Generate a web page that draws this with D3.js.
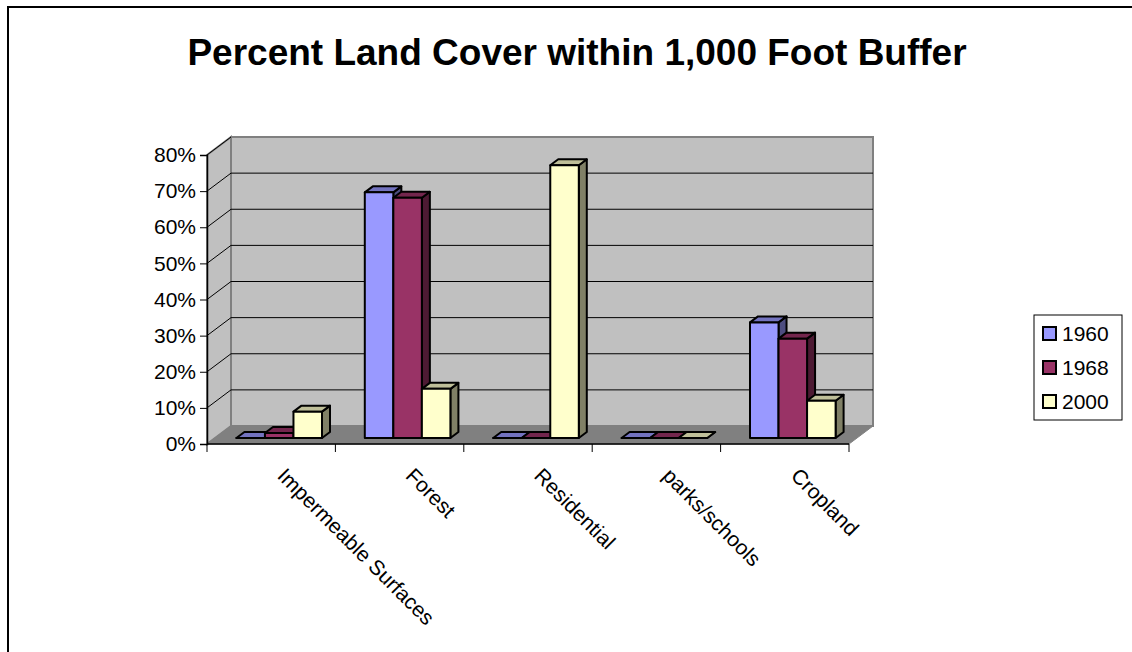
<!DOCTYPE html>
<html>
<head>
<meta charset="utf-8">
<script src="https://cdn.jsdelivr.net/npm/d3@7"></script>
<style>
  body { margin: 0; background: #fff; }
  svg text { font-family: Arial, "Liberation Sans", sans-serif; }
</style>
</head>
<body>
<div id="chart"></div>
<script>
// Data
const categories = ['Impermeable Surfaces', 'Forest', 'Residential', 'parks/schools', 'Cropland'];
const seriesNames = ['1960', '1968', '2000'];
const values1960 = [0, 0.68, 0, 0, 0.32];
const values1968 = [0.014, 0.665, 0, 0, 0.275];
const values2000 = [0.073, 0.136, 0.755, 0, 0.103];
const seriesColors = ['#9999ff', '#993366', '#ffffcc'];
const yTicks = [0, 0.1, 0.2, 0.3, 0.4, 0.5, 0.6, 0.7, 0.8];

const seriesValues = [values1960, values1968, values2000];

// Dimensions
const dims = {
    width: 1132,
    height: 652,
    left: 207,
    right: 849,
    floor: 444,
    top: 155,
    depthX: 24,
    depthY: -18
}

// Scales
const xScale = d3.scaleBand()
    .domain(categories)
    .range([dims.left, dims.right])
    .paddingInner(0)
    .paddingOuter(0)

const yScale = d3.scaleLinear()
    .domain([0, 0.8])
    .range([dims.floor, dims.top])

// gap width 150% -> bar width = band / 4.5
const barScale = d3.scaleBand()
    .domain(seriesNames)
    .range([0, xScale.bandwidth()])
    .paddingInner(0)
    .paddingOuter(0.75)

// depth fraction (0 = front, 1 = back wall)
const depth = d3.scaleLinear().domain([0, 1]).range([0, 1])
const px = (x, f) => x + dims.depthX * depth(f)
const py = (y, f) => y + dims.depthY * depth(f)

const svg = d3.select('#chart')
    .append('svg')
    .attr('width', dims.width)
    .attr('height', dims.height)

// outer border
svg.append('rect')
    .attr('x', 8).attr('y', 7)
    .attr('width', 1200).attr('height', 700)
    .attr('fill', 'none')
    .attr('stroke', '#000')
    .attr('stroke-width', 2)

// Title
svg.append('text')
    .attr('x', 577)
    .attr('y', 65)
    .attr('text-anchor', 'middle')
    .attr('font-size', 37)
    .attr('font-weight', 'bold')
    .text('Percent Land Cover within 1,000 Foot Buffer')

const poly = pts => pts.map(p => p.join(',')).join(' ')

// Walls
const y0 = yScale(0), yMax = yScale(0.8)
svg.append('polygon')
    .attr('points', poly([[px(dims.left, 1), py(yMax, 1)], [px(dims.right, 1), py(yMax, 1)],
        [px(dims.right, 1), py(y0, 1)], [px(dims.left, 1), py(y0, 1)]]))
    .attr('fill', '#c0c0c0')
    .attr('stroke', '#808080')
    .attr('stroke-width', 2)

svg.append('polygon')
    .attr('points', poly([[dims.left, yMax], [px(dims.left, 1), py(yMax, 1)],
        [px(dims.left, 1), py(y0, 1)], [dims.left, y0]]))
    .attr('fill', '#c0c0c0')
    .attr('stroke', '#808080')
    .attr('stroke-width', 2)

// Gridlines
const grid = yTicks.filter(d => d > 0 && d < 0.8)
svg.append('g').selectAll('line.back')
    .data(grid)
    .join('line')
    .attr('x1', px(dims.left, 1))
    .attr('x2', px(dims.right, 1))
    .attr('y1', d => py(yScale(d), 1))
    .attr('y2', d => py(yScale(d), 1))
    .attr('stroke', '#000')
    .attr('stroke-width', 1)

svg.append('g').selectAll('line.side')
    .data(grid.concat([0.8]))
    .join('line')
    .attr('x1', dims.left)
    .attr('x2', px(dims.left, 1))
    .attr('y1', d => yScale(d))
    .attr('y2', d => py(yScale(d), 1))
    .attr('stroke', '#000')
    .attr('stroke-width', 1)

// Floor
svg.append('polygon')
    .attr('points', poly([[dims.left, y0], [dims.right, y0],
        [px(dims.right, 1), py(y0, 1)], [px(dims.left, 1), py(y0, 1)]]))
    .attr('fill', '#808080')
    .attr('stroke', '#808080')
    .attr('stroke-width', 1)

// Bars
const shade = (c, k) => {
    const r = d3.rgb(c)
    return d3.rgb(r.r * k, r.g * k, r.b * k).toString()
}
const f0 = 1 / 3, f1 = 2 / 3
const bars = []
categories.forEach((c, i) => {
    seriesNames.forEach((s, j) => {
        bars.push({cat: c, series: s, value: seriesValues[j][i], color: seriesColors[j]})
    })
})

const barG = svg.append('g')
bars.forEach(d => {
    const xl = xScale(d.cat) + barScale(d.series)
    const xr = xl + barScale.bandwidth()
    const yb = yScale(0)
    const yt = yScale(d.value)
    const g = barG.append('g')
        .attr('stroke', '#000')
        .attr('stroke-width', 2)
        .attr('stroke-linejoin', 'round')
    // side
    g.append('polygon')
        .attr('points', poly([[px(xr, f0), py(yt, f0)], [px(xr, f1), py(yt, f1)],
            [px(xr, f1), py(yb, f1)], [px(xr, f0), py(yb, f0)]]))
        .attr('fill', shade(d.color, 0.5))
    // top
    g.append('polygon')
        .attr('points', poly([[px(xl, f0), py(yt, f0)], [px(xr, f0), py(yt, f0)],
            [px(xr, f1), py(yt, f1)], [px(xl, f1), py(yt, f1)]]))
        .attr('fill', shade(d.color, 0.75))
    // front
    g.append('polygon')
        .attr('points', poly([[px(xl, f0), py(yt, f0)], [px(xr, f0), py(yt, f0)],
            [px(xr, f0), py(yb, f0)], [px(xl, f0), py(yb, f0)]]))
        .attr('fill', d.color)
})

// Axes
const yAxis = d3.axisLeft(yScale)
    .tickValues(yTicks)
    .tickSize(7)
    .tickPadding(4)
    .tickFormat(d3.format('.0%'))

const yAxisGroup = svg.append('g')
    .attr('transform', `translate(${dims.left},0)`)
    .call(yAxis)
yAxisGroup.select('.domain').attr('stroke', '#000').attr('stroke-width', 1.5)
yAxisGroup.selectAll('.tick line').attr('stroke', '#000')
yAxisGroup.selectAll('text')
    .attr('font-size', 21)
    .attr('font-family', 'Arial, "Liberation Sans", sans-serif')
    .attr('fill', '#000')

const xAxisGroup = svg.append('g')
svg.append('line')
    .attr('x1', dims.left).attr('x2', dims.right)
    .attr('y1', y0).attr('y2', y0)
    .attr('stroke', '#000').attr('stroke-width', 1.5)
xAxisGroup.selectAll('line')
    .data(categories.map(c => xScale(c)).concat([dims.right]))
    .join('line')
    .attr('x1', d => d).attr('x2', d => d)
    .attr('y1', y0).attr('y2', y0 + 8)
    .attr('stroke', '#000')

xAxisGroup.selectAll('text')
    .data(categories)
    .join('text')
    .attr('transform', d => `translate(${xScale(d) + xScale.bandwidth() / 2 + 5},477) rotate(45)`)
    .attr('font-size', 21)
    .attr('text-anchor', 'start')
    .text(d => d)

// Legend
const legend = svg.append('g').attr('transform', 'translate(1034,315)')
legend.append('rect')
    .attr('width', 88).attr('height', 105)
    .attr('fill', '#fff')
    .attr('stroke', '#000')
    .attr('stroke-width', 1)
const items = legend.selectAll('g.item')
    .data(seriesNames)
    .join('g')
    .attr('transform', (d, i) => `translate(9,${19 + i * 34})`)
items.append('rect')
    .attr('x', 0).attr('y', -7)
    .attr('width', 13).attr('height', 13)
    .attr('fill', (d, i) => seriesColors[i])
    .attr('stroke', '#000')
    .attr('stroke-width', 2)
items.append('text')
    .attr('x', 19)
    .attr('y', 0)
    .attr('dy', '0.35em')
    .attr('font-size', 21)
    .text(d => d)
</script>
</body>
</html>
